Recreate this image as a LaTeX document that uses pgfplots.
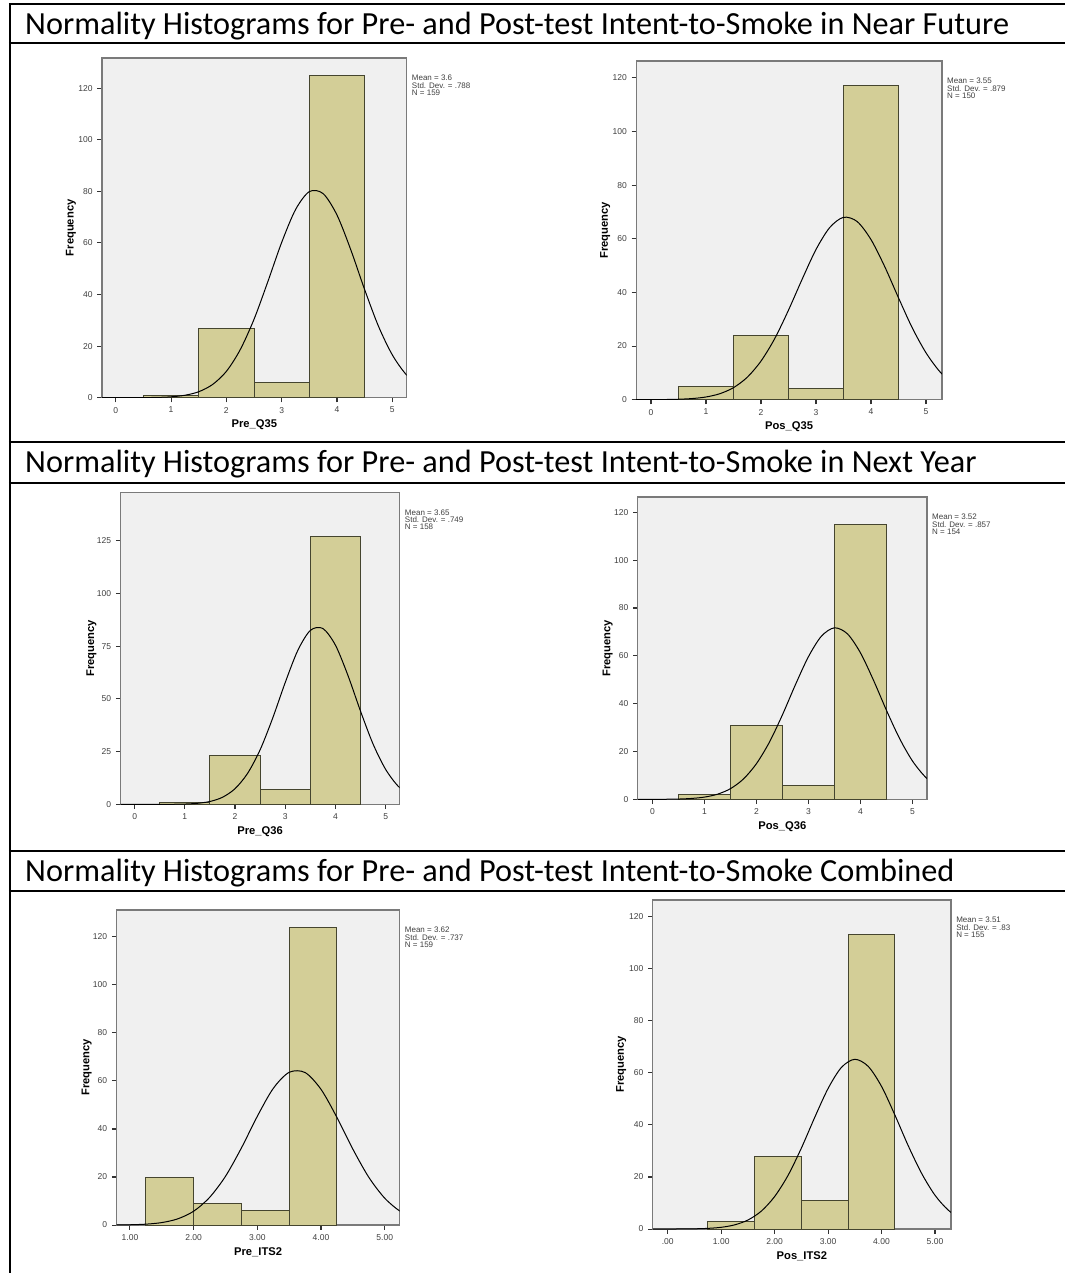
\documentclass[border=0pt]{standalone}
\usepackage{fontspec}
\setmainfont{Liberation Sans}
\newfontfamily\titlefont{Carlito}
\usepackage{pgfplots}
\pgfplotsset{compat=1.18}
\definecolor{bgc}{HTML}{F0F0F0}
\definecolor{barc}{HTML}{D3CE97}
\definecolor{bard}{HTML}{45452F}
\definecolor{framec}{HTML}{7A7A7A}
\pgfplotsset{
  spss/.style={
    scale only axis, anchor=south west, clip mode=individual,
    axis background/.style={fill=bgc},
    ymin=0, tick align=outside, xtick pos=bottom, ytick pos=left,
    major tick length=3.5pt,
    axis line style={draw=framec, line width=0.9pt},
    major tick style={draw=black!80, line width=0.8pt},
    ticklabel style={font=\fontsize{6.4}{6.4}\selectfont, text=black!75},
    /pgf/number format/assume math mode=true,
    label style={font=\bfseries\fontsize{8.4}{8.4}\selectfont},
    xlabel style={at={(axis description cs:0.5,0)}, anchor=center, yshift=-20.25pt},
    ylabel style={anchor=center},
    xtick={0,1,2,3,4,5},
    ylabel={Frequency},
  },
  bars/.style={ybar interval, fill=barc, draw=bard, line width=0.7pt},
  curve/.style={smooth, black, line width=0.75pt},
}
\tikzset{stat/.style={anchor=north west, inner sep=0pt, align=left, font=\fontsize{6}{5.5}\selectfont, text=black!75, xshift=3.75pt, yshift=-12.75pt}}
\begin{document}
\begin{tikzpicture}
\path (0,0) rectangle (799.5pt,-955.5pt);
% table lines
\draw[line width=1.5pt] (7.5pt,-3pt) -- (7.5pt,-955.5pt);
\foreach \yy in {3,32.25,331.5,362.25,639,669} {
  \draw[line width=1.5pt] (6.75pt,-\yy pt) -- (799.5pt,-\yy pt);
}
\node[anchor=base west, inner sep=0pt, font=\titlefont\fontsize{24.2}{24.2}\selectfont] at (18.75pt,-26.25pt) {Normality Histograms for Pre- and Post-test Intent-to-Smoke in Near Future};
\node[anchor=base west, inner sep=0pt, font=\titlefont\fontsize{24.2}{24.2}\selectfont] at (18.75pt,-355pt) {Normality Histograms for Pre- and Post-test Intent-to-Smoke in Next Year};
\node[anchor=base west, inner sep=0pt, font=\titlefont\fontsize{24.2}{24.2}\selectfont] at (18.75pt,-662pt) {Normality Histograms for Pre- and Post-test Intent-to-Smoke Combined};

% Chart 1
\begin{axis}[spss, at={(76.5pt,-298.5pt)}, width=228.75pt, height=255pt,
  xmin=-0.25, xmax=5.26, ymax=131.7, ytick={0,20,40,60,80,100,120},
  xlabel={Pre\_Q35}, ylabel style={at={(axis description cs:-0.102,0.5)}}]
\addplot[bars] coordinates {(0.5,1)(1.5,27)(2.5,6)(3.5,125)(4.5,0)};
\addplot[curve] coordinates {(-0.25,0)(0,0)(0.25,0.01)(0.5,0.04)(0.75,0.12)(1,0.35)(1.25,0.94)(1.5,2.31)(1.75,5.11)(2,10.2)(2.25,18.6)(2.5,30.4)(2.75,45.0)(3,60.2)(3.25,72.9)(3.5,79.9)(3.75,79.1)(4,70.8)(4.25,57.3)(4.5,41.9)(4.75,27.7)(5,16.6)(5.25,8.99)(5.5,4.4)};
\node[stat] at (rel axis cs:1,1) {Mean = 3.6\\Std. Dev. = .788\\N = 159};
\end{axis}

% Chart 2
\begin{axis}[spss, at={(477.5pt,-300pt)}, width=229.5pt, height=254.25pt,
  xmin=-0.27, xmax=5.29, ymax=126.3, ytick={0,20,40,60,80,100,120},
  xlabel={Pos\_Q35}, ylabel style={at={(axis description cs:-0.101,0.5)}}]
\addplot[bars] coordinates {(0.5,5)(1.5,24)(2.5,4)(3.5,117)(4.5,0)};
\addplot[curve] coordinates {(-0.5,0)(-0.25,0)(0,0.02)(0.25,0.06)(0.5,0.17)(0.75,0.43)(1,1.01)(1.25,2.22)(1.5,4.49)(1.75,8.37)(2,14.4)(2.25,22.8)(2.5,33.4)(2.75,45.0)(3,56.0)(3.25,64.2)(3.5,68.0)(3.75,66.4)(4,59.7)(4.25,49.6)(4.5,38.0)(4.75,26.8)(5,17.5)(5.25,10.5)(5.5,5.8)};
\node[stat] at (rel axis cs:1,1) {Mean = 3.55\\Std. Dev. = .879\\N = 150};
\end{axis}

% Chart 3
\begin{axis}[spss, at={(90.5pt,-603.75pt)}, width=209.5pt, height=234.25pt,
  xmin=-0.28, xmax=5.28, ymax=148, ytick={0,25,50,75,100,125},
  xlabel={Pre\_Q36}, ylabel style={at={(axis description cs:-0.104,0.5)}}]
\addplot[bars] coordinates {(0.5,1)(1.5,23)(2.5,7)(3.5,127)(4.5,0)};
\addplot[curve] coordinates {(-0.5,0)(-0.25,0)(0,0)(0.25,0)(0.5,0.01)(0.75,0.05)(1,0.16)(1.25,0.50)(1.5,1.37)(1.75,3.37)(2,7.44)(2.25,14.7)(2.5,25.9)(2.75,40.9)(3,57.8)(3.25,73.0)(3.5,82.5)(3.75,83.4)(4,75.5)(4.25,61.1)(4.5,44.2)(4.75,28.6)(5,16.6)(5.25,8.6)(5.5,4.0)};
\node[stat] at (rel axis cs:1,1) {Mean = 3.65\\Std. Dev. = .749\\N = 158};
\end{axis}

% Chart 4
\begin{axis}[spss, at={(478.75pt,-600pt)}, width=217pt, height=227pt,
  xmin=-0.28, xmax=5.28, ymax=126.4, ytick={0,20,40,60,80,100,120},
  xlabel={Pos\_Q36}, ylabel style={at={(axis description cs:-0.104,0.5)}}]
\addplot[bars] coordinates {(0.5,2)(1.5,31)(2.5,6)(3.5,115)(4.5,0)};
\addplot[curve] coordinates {(-0.5,0)(-0.25,0)(0,0.01)(0.25,0.05)(0.5,0.14)(0.75,0.39)(1,0.95)(1.25,2.15)(1.5,4.46)(1.75,8.50)(2,14.9)(2.25,23.9)(2.5,35.3)(2.75,47.9)(3,59.6)(3.25,68.2)(3.5,71.7)(3.75,69.2)(4,61.3)(4.25,49.9)(4.5,37.3)(4.75,25.6)(5,16.1)(5.25,9.35)(5.5,5.0)};
\node[stat] at (rel axis cs:1,1) {Mean = 3.52\\Std. Dev. = .857\\N = 154};
\end{axis}

% Chart 5
\begin{axis}[spss, at={(87.5pt,-919.5pt)}, width=212.5pt, height=236.5pt,
  xmin=0.79, xmax=5.235, ymax=131.2, ytick={0,20,40,60,80,100,120},
  xtick={1,2,3,4,5}, xticklabels={1.00,2.00,3.00,4.00,5.00},
  xlabel={Pre\_ITS2}, ylabel style={at={(axis description cs:-0.106,0.5)}}]
\addplot[bars] coordinates {(1.25,20)(2,9)(2.75,6)(3.5,124)(4.25,0)};
\addplot[curve] coordinates {(0.5,0.01)(0.75,0.03)(1,0.12)(1.25,0.37)(1.5,1.03)(1.75,2.58)(2,5.76)(2.25,11.5)(2.5,20.3)(2.75,32.1)(3,45.3)(3.25,56.9)(3.5,63.6)(3.75,63.5)(4,56.5)(4.25,44.8)(4.5,31.6)(4.75,19.9)(5,11.2)(5.25,5.59)(5.5,2.49)};
\node[stat] at (rel axis cs:1,1) {Mean = 3.62\\Std. Dev. = .737\\N = 159};
\end{axis}

% Chart 6
\begin{axis}[spss, at={(490pt,-922.5pt)}, width=223.8pt, height=247pt,
  xmin=-0.28, xmax=5.30, ymax=126.4, ytick={0,20,40,60,80,100,120},
  xticklabels={.00,1.00,2.00,3.00,4.00,5.00},
  xlabel={Pos\_ITS2}, ylabel style={at={(axis description cs:-0.106,0.5)}}]
\addplot[bars] coordinates {(0.75,3)(1.625,28)(2.5,11)(3.375,113)(4.25,0)};
\addplot[curve] coordinates {(-0.5,0)(-0.25,0)(0,0.01)(0.25,0.03)(0.5,0.09)(0.75,0.26)(1,0.67)(1.25,1.60)(1.5,3.47)(1.75,6.88)(2,12.5)(2.25,20.6)(2.5,31.1)(2.75,42.9)(3,54.0)(3.25,62.1)(3.5,65.2)(3.75,62.5)(4,54.8)(4.25,43.8)(4.5,32.0)(4.75,21.4)(5,13.0)(5.25,7.24)(5.5,3.7)};
\node[stat] at (rel axis cs:1,1) {Mean = 3.51\\Std. Dev. = .83\\N = 155};
\end{axis}
\end{tikzpicture}
\end{document}
